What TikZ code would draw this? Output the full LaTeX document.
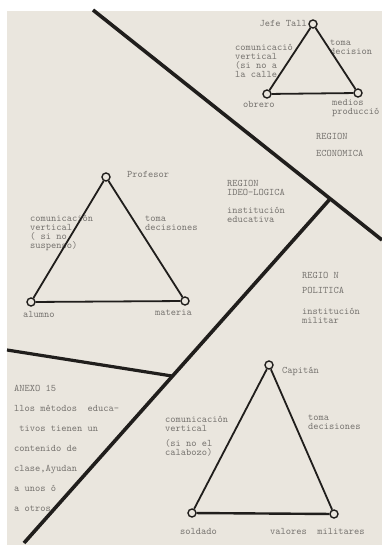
\documentclass[tikz,border=0pt]{standalone}
\usepackage{tikz}
\usetikzlibrary{positioning}
\definecolor{paper}{RGB}{234,230,222}
\definecolor{ink}{RGB}{32,30,28}
\definecolor{typed}{RGB}{118,115,111}
\begin{document}
\begin{tikzpicture}[
    x=1pt, y=-1pt,
    every node/.style={font=\ttfamily\fontsize{10}{9}\selectfont, text=typed, inner sep=0pt},
    vertex/.style={circle, draw=ink, fill=paper, line width=1.4pt, minimum size=8pt},
    lbl/.style={anchor=west},
    block/.style={anchor=north west, align=left},
    border/.style={draw=ink, line width=3.6pt},
    side/.style={draw=ink, line width=1.8pt}
]
\useasboundingbox (0,0) rectangle (382,545);
\fill[paper] (7,11) rectangle (382,545);

\coordinate (a1) at (93,10);
\coordinate (a2) at (382,240);
\coordinate (j1) at (330,199);
\coordinate (j2) at (172,376);
\coordinate (b2) at (24,543);
\coordinate (c1) at (7,350);
\draw[border] (a1) -- (a2);
\draw[border] (j1) -- (b2);
\draw[border, line width=3.2pt] (c1) -- (j2);

\node[vertex] (jefe) at (313,24) {};
\node[vertex] (obrero) at (267,94) {};
\node[vertex] (medios) at (358,93) {};
\node[vertex] (prof) at (106,177) {};
\node[vertex] (alumno) at (31,302) {};
\node[vertex] (materia) at (185,301) {};
\node[vertex] (capitan) at (269,365) {};
\node[vertex] (soldado) at (192,513) {};
\node[vertex] (valores) at (334,514) {};

\node[anchor=east] (tjefe) at (307,23) {Jefe Tall};
\node[block] (tcom1) at (235,44) {comunicació\\vertical\\(si no a\\la calle};
\node[block] (ttoma1) at (330,40) {toma\\decision};
\node[lbl] (tobrero) at (243,104) {obrero};
\node[block] (tmedios) at (332,99) {medios\\producció};
\node[lbl] (treg1) at (316,136) {REGION};
\node[lbl] (teco) at (316,153) {ECONOMICA};

\node[lbl] (tprof) at (127,174) {Profesor};
\node[block] (tcom2) at (30,215) {comunicación\\vertical\\( si no\\suspenso)};
\node[block] (ttoma2) at (145,216) {toma\\decisiones};
\node[lbl] (talumno) at (23,314) {alumno};
\node[lbl] (tmateria) at (155,313) {materia};

\node[block] (treg2) at (227,180) {REGION\\IDEO-LOGICA};
\node[block] (tinst1) at (227,207) {institución\\educativa};
\node[lbl] (treg3) at (302,275) {REGIO N};
\node[lbl] (tpol) at (302,290) {POLITICA};
\node[block] (tinst2) at (302,308) {institución\\militar};

\node[block, font=\ttfamily\fontsize{10}{20}\selectfont] (tanexo) at (14,385)
    {ANEXO 15\\llos métodos\ \ educa-\\\ tivos tienen un\\contenido de\\clase,Ayudan\\a unos ó\\a otros};

\node[lbl] (tcap) at (282,371) {Capitán};
\node[block] (tcom3) at (165,416) {comunicación\\vertical\\[6pt](si no el\\calabozo)};
\node[block] (ttoma3) at (308,415) {toma\\decisiones};
\node[lbl] (tsoldado) at (180,531) {soldado};
\node[lbl] (tvalores) at (270,531) {valores\ \ militares};

\draw[side] (jefe) -- (obrero);
\draw[side] (jefe) -- (medios);
\draw[side] (obrero) -- (medios);
\draw[side] (prof) -- (alumno);
\draw[side] (prof) -- (materia);
\draw[side] (alumno) -- (materia);
\draw[side] (capitan) -- (soldado);
\draw[side] (capitan) -- (valores);
\draw[side, line width=2.4pt] (soldado) -- (valores);
\end{tikzpicture}
\end{document}
